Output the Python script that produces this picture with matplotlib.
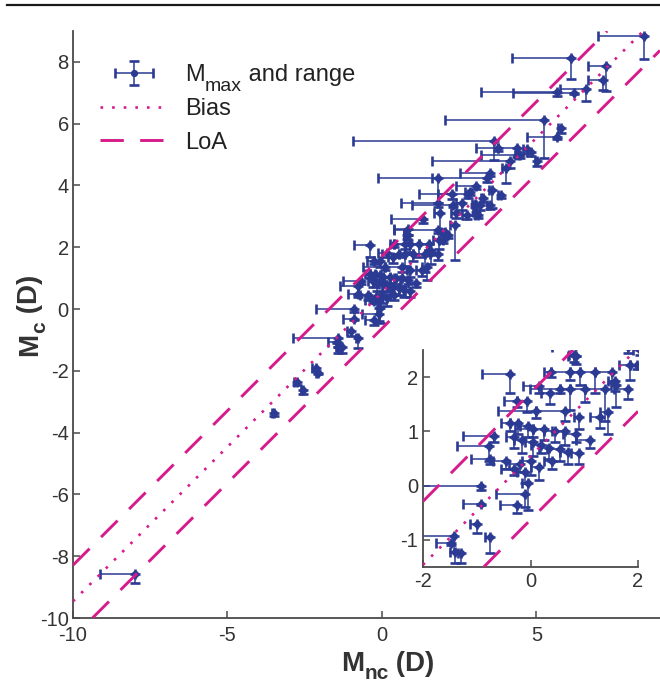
import numpy as np
import matplotlib
matplotlib.use("Agg")
import matplotlib.pyplot as plt
from matplotlib.lines import Line2D
from matplotlib.legend_handler import HandlerErrorbar

plt.rcParams['font.family'] = ['Liberation Sans', 'DejaVu Sans']
plt.rcParams['axes.unicode_minus'] = False

# Each subject: maximum refraction (marker) and the range down to the minimum
m_nc = [8.49, 6.11, 7.24, 7.16, 6.62, 5.65, 6.21, 5.25, 5.81, 5.65,
        3.63, 3.76, 4.36, 4.41, 4.68, 4.84, 4.47, 5.01, 4.14, 4.03,
        3.39, 1.82, 3.50, 3.57, 3.06, 2.79, 2.26, 2.85, 3.28, 3.84,
        1.82, 2.31, 2.58, 3.01, 3.17, 3.50, 3.06, 3.12, 2.74, 1.34,
        1.88, 2.40, 1.82, 2.36, 2.04, 2.15, 0.85, 0.85,
        -0.38, 0.80, 0.39, 0.73, 0.92, 1.20, 1.51, 1.85, 1.98, 1.57,
        1.59, 1.82, 0.16, 0.55, 0.73, 1.01, 1.39, -0.26, -0.07, 0.36,
        0.11, 0.64, 0.91, 1.29, 1.45, -0.39, -0.24, -0.05, 0.05, 0.25,
        0.45, 0.65, 0.85, 1.11, -0.68, -0.77, -0.30, -0.15, 0.05, 0.20,
        0.35, 0.55, 0.70, 0.90, -0.76, -0.45, -0.20, 0.00, 0.15, 0.40,
        -0.30, -0.10, -0.915, -0.11, -0.05, -0.915, -0.26, -1.00, -0.76, -1.43,
        -1.47, -1.41, -1.29, -2.14, -2.06, -2.76, -2.55, -3.50, -8.00]
m_nc_min = [7.00, 4.20, 6.67, 6.67, 5.76, 3.19, 4.23, 2.04, 5.70, 4.70,
            -0.95, 3.04, 3.76, 3.22, 4.55, 4.70, 4.30, 4.95, 1.63, 3.90,
            -0.12, 1.61, 2.52, 3.45, 2.39, 1.21, 1.82, 2.70, 3.20, 3.75,
            0.61, 0.96, 2.40, 2.90, 3.05, 3.40, 2.95, 3.00, 2.60, 0.29,
            1.70, 2.25, 0.40, 2.20, 1.90, 2.05, 0.40, 0.70,
            -0.91, 0.72, 0.25, 0.39, 0.73, 0.92, 1.20, 1.65, 1.85, 1.45,
            1.50, 1.55, -0.14, -0.01, 0.55, 0.73, 1.01, -0.49, -0.26, 0.20,
            -0.60, 0.11, 0.80, 1.10, 1.30, -0.55, -0.39, -0.20, -0.29, 0.05,
            0.25, 0.40, 0.60, 0.85, -1.25, -1.37, -0.45, -0.30, -0.10, 0.00,
            0.15, 0.30, 0.55, 0.75, -1.10, -0.70, -0.40, -0.15, 0.00, 0.25,
            -0.55, -0.25, -2.14, -0.65, -0.15, -1.26, -0.56, -1.13, -0.85, -2.87,
            -1.75, -1.50, -1.35, -2.25, -2.12, -2.85, -2.62, -3.55, -9.13]
m_c = [8.83, 8.13, 7.87, 7.41, 7.12, 7.03, 7.00, 6.12, 5.85, 5.56,
       5.45, 5.22, 5.22, 5.00, 5.17, 5.09, 4.98, 4.80, 4.79, 4.55,
       4.25, 4.25, 4.39, 3.85, 3.98, 3.74, 3.74, 3.80, 3.58, 3.69,
       3.42, 3.37, 3.42, 3.40, 3.37, 3.37, 3.15, 3.04, 3.04, 2.90,
       3.10, 3.10, 2.56, 2.72, 2.50, 2.39, 2.59, 2.39,
       2.06, 2.40, 2.10, 2.10, 2.10, 2.10, 2.10, 2.22, 2.22, 1.92,
       1.85, 1.79, 1.83, 1.79, 1.79, 1.79, 1.79, 1.56, 1.56, 1.70,
       1.37, 1.37, 1.27, 1.27, 1.35, 1.15, 1.15, 1.10, 1.04, 1.04,
       1.00, 1.00, 0.95, 0.84, 0.92, 0.73, 0.90, 0.85, 0.80, 0.75,
       0.70, 0.68, 0.62, 0.60, 0.49, 0.45, 0.40, 0.45, 0.35, 0.45,
       0.30, 0.25, 0.00, -0.15, 0.04, -0.33, -0.35, -0.70, -0.95, -0.93,
       -1.06, -1.22, -1.24, -1.92, -2.06, -2.35, -2.62, -3.38, -8.57]
m_c_min = [8.09, 7.45, 7.05, 7.10, 6.73, 6.88, 6.95, 4.88, 5.70, 5.50,
           4.82, 5.10, 4.93, 4.95, 5.05, 4.95, 4.90, 4.62, 4.55, 4.07,
           4.10, 3.42, 4.30, 3.27, 3.90, 3.60, 3.55, 3.70, 3.45, 3.60,
           3.30, 3.30, 3.20, 3.30, 3.20, 3.25, 3.05, 2.95, 2.90, 2.80,
           2.60, 2.95, 2.45, 1.59, 2.40, 2.30, 2.39, 2.25,
           1.70, 2.28, 2.00, 1.95, 1.85, 1.70, 1.90, 1.95, 2.15, 1.75,
           1.45, 1.60, 1.70, 1.70, 1.40, 1.55, 1.20, 1.45, 1.35, 1.50,
           1.25, 1.20, 1.05, 1.06, 0.95, 1.00, 0.95, 0.90, 0.90, 0.85,
           0.80, 0.75, 0.80, 0.70, 0.80, 0.46, 0.70, 0.60, 0.55, 0.60,
           0.50, 0.45, 0.40, 0.40, 0.40, 0.30, 0.25, 0.20, 0.10, 0.30,
           0.20, 0.05, -0.08, -0.39, -0.45, -0.36, -0.51, -0.87, -1.25, -1.22,
           -1.10, -1.42, -1.42, -2.00, -2.10, -2.45, -2.75, -3.47, -8.87]

bias = 0.54
loa = [bias - 1.17, bias + 1.17]

blue = '#2B3A93'
magenta = '#D61C8C'
axis_grey = '#4A4A4A'
label_color = '#333333'

x = np.array(m_nc)
y = np.array(m_c)
xerr = np.vstack([x - np.array(m_nc_min), np.zeros_like(x)])
yerr = np.vstack([y - np.array(m_c_min), np.zeros_like(y)])

fig = plt.figure(figsize=(6.6, 6.84), dpi=100)
W, H = 660, 684


def fig_rect(left, top, right, bottom):
    return [left / W, 1 - bottom / H, (right - left) / W, (bottom - top) / H]


def draw(ax):
    eb = ax.errorbar(x, y, xerr=xerr, yerr=yerr, fmt='o', color=blue,
                     ecolor=blue, markersize=4.2, elinewidth=1.1,
                     capsize=3.4, capthick=1.9, zorder=2)
    bias_line = ax.axline((0, bias), slope=1, color=magenta, lw=1.9,
                          linestyle=(0, (1, 3.4)), zorder=3)
    loa_lines = [ax.axline((0, v), slope=1, color=magenta, lw=2.1,
                           linestyle=(0, (8, 5.6)), zorder=3) for v in loa]
    return eb, bias_line, loa_lines[0]


def style(ax):
    for side in ('top', 'right'):
        ax.spines[side].set_visible(False)
    for side in ('left', 'bottom'):
        ax.spines[side].set_color(axis_grey)
        ax.spines[side].set_linewidth(1.3)
    ax.tick_params(direction='in', length=5, width=1.1, colors=axis_grey,
                   labelcolor=label_color, labelsize=14.5)


def compose(x0, y0, pieces, rotation=0, color=label_color, va='baseline'):
    """Write text pieces one after another from pixel point (x0, y0).
    Each piece is (string, size, weight, drop_px); drop_px lowers it."""
    renderer = fig.canvas.get_renderer()
    pos = 0.0
    for s, size, weight, drop in pieces:
        if rotation == 90:
            px, py = x0 + drop, y0 + pos
        else:
            px, py = x0 + pos, y0 - drop
        t = fig.text(px / W, py / H, s, fontsize=size, fontweight=weight,
                     color=color, rotation=rotation, rotation_mode='anchor',
                     ha='left', va=va)
        bb = t.get_window_extent(renderer)
        pos += bb.height if rotation == 90 else bb.width


ax = fig.add_axes(fig_rect(73, 31, 660, 618))
eb, bias_line, loa_line = draw(ax)
ax.set_xlim(-10, 9)
ax.set_ylim(-10, 9)
ax.set_xticks([-10, -5, 0, 5])
ax.set_yticks(np.arange(-10, 9, 2))
style(ax)
ax.tick_params(axis='x', pad=6)
ax.tick_params(axis='y', pad=3)

leg = ax.legend([eb, bias_line, loa_line], ['M', 'Bias', 'LoA'],
                loc='upper left', bbox_to_anchor=(100 / W, 1 - 64 / H),
                bbox_transform=fig.transFigure, frameon=False,
                fontsize=17, handlelength=2.9, handletextpad=0.7,
                labelspacing=0.5, borderpad=0, borderaxespad=0,
                handler_map={type(eb): HandlerErrorbar(xerr_size=0.8,
                                                       yerr_size=0.5)})
for t in leg.get_texts():
    t.set_color('#222222')

# zoomed view of the dense central cluster
axi = fig.add_axes(fig_rect(423, 350, 638, 567))
draw(axi)
axi.set_xlim(-2, 2)
axi.set_ylim(-1.5, 2.5)
axi.set_xticks([-2, 0, 2])
axi.set_yticks([-1, 0, 1, 2])
axi.patch.set_alpha(0)
style(axi)

# rule across the top of the figure
fig.add_artist(Line2D([7 / W, 1.0], [1 - 5 / H, 1 - 5 / H],
                      transform=fig.transFigure, color='#1A1A1A', lw=1.6))

# subscripted legend entry and axis labels
fig.canvas.draw()
renderer = fig.canvas.get_renderer()
m_box = leg.get_texts()[0].get_window_extent(renderer)
compose(m_box.x1, m_box.y0, [('max', 14, 'normal', 9),
                             (' and range', 17, 'normal', 0)],
        color='#222222', va='bottom')

compose(341, H - 671, [('M', 20, 'bold', 0), ('nc', 15, 'bold', 8),
                       (' (D)', 20, 'bold', 0)])
compose(37, H - 356, [('M', 20, 'bold', 0), ('c', 15, 'bold', 8),
                      (' (D)', 20, 'bold', 0)], rotation=90)

fig.savefig('out.png', dpi=100)
